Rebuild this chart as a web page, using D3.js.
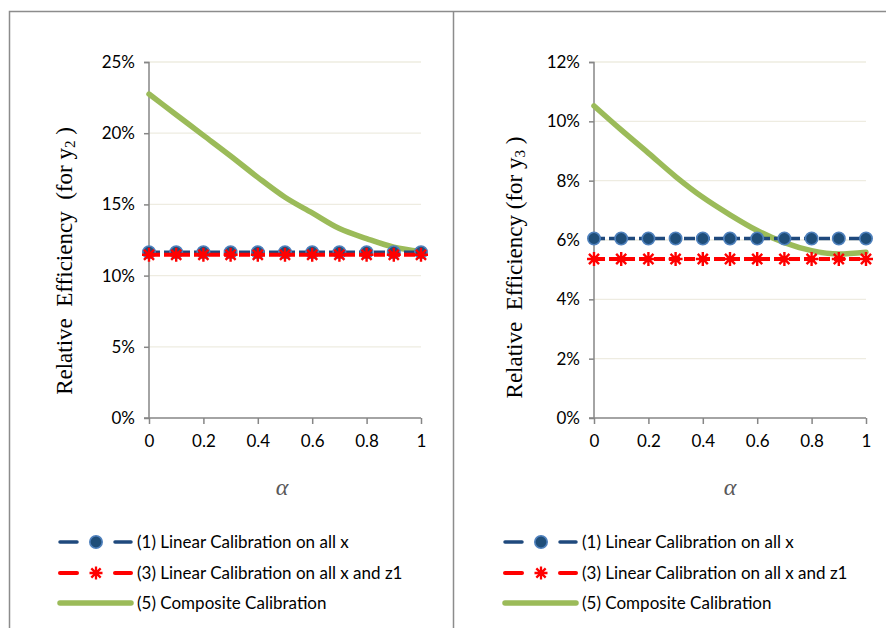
<!DOCTYPE html>
<html><head><meta charset="utf-8">
<script src="https://cdn.jsdelivr.net/npm/d3@7"></script>
<style>
body{margin:0;background:#fff;}
svg{display:block;}
</style></head>
<body>
<svg id="c" width="886" height="628"></svg>
<script>
const alpha = [0,0.1,0.2,0.3,0.4,0.5,0.6,0.7,0.8,0.9,1];
const xTicks = [0,0.2,0.4,0.6,0.8,1];

// Panel 1 (y2)
const y2Linear   = [11.64,11.64,11.64,11.64,11.64,11.64,11.64,11.64,11.64,11.64,11.64];
const y2LinearZ1 = [11.46,11.46,11.46,11.46,11.46,11.46,11.46,11.46,11.46,11.46,11.46];
const y2Composite= [22.75,21.3,19.85,18.4,16.9,15.5,14.4,13.3,12.6,12.0,11.7];
const y2Ticks = [0,5,10,15,20,25];

// Panel 2 (y3)
const y3Linear   = [6.05,6.05,6.05,6.05,6.05,6.05,6.05,6.05,6.05,6.05,6.05];
const y3LinearZ1 = [5.36,5.36,5.36,5.36,5.36,5.36,5.36,5.36,5.36,5.36,5.36];
const y3Composite= [10.52,9.71,8.93,8.14,7.44,6.85,6.32,5.91,5.64,5.53,5.59];
const y3Ticks = [0,2,4,6,8,10,12];

const seriesNames = ["(1) Linear Calibration on all x","(3) Linear Calibration on all x and z1","(5) Composite Calibration"];

const svg = d3.select("#c");
const C = {blue:"#1F497D", blueFill:"#1F4E79", blueStroke:"#4F81BD", red:"#FF0000", green:"#9BBB59", grid:"#EEECE1", axis:"#868686", frame:"#8C8C8C"};
const FONT = "Lato, 'Open Sans', sans-serif";
const FS = 17;

// frames
svg.append("path").attr("d","M9.5,628 V11.5 H886").attr("fill","none").attr("stroke",C.frame).attr("stroke-width",1.5);
svg.append("path").attr("d","M453.5,11.5 V628").attr("fill","none").attr("stroke",C.frame).attr("stroke-width",1.5);

const panels = [
  {x0:149, x1:421, yMax:25, ticks:y2Ticks, lin:y2Linear, linz:y2LinearZ1, comp:y2Composite, sub:"2", titleX:71.5, titleY:261, gap1:"  ", gap2:"  ", legX:60, alphaX:282},
  {x0:594, x1:866, yMax:12, ticks:y3Ticks, lin:y3Linear, linz:y3LinearZ1, comp:y3Composite, sub:"3", titleX:521.5, titleY:267.5, gap1:"  ", gap2:" ", legX:505, alphaX:730}
];

function star(g, cx, cy, r, w){
  const k = r*0.72;
  const d = `M${cx-r},${cy}H${cx+r}M${cx},${cy-r}V${cy+r}M${cx-k},${cy-k}L${cx+k},${cy+k}M${cx-k},${cy+k}L${cx+k},${cy-k}`;
  g.append("path").attr("d",d).attr("stroke",C.red).attr("stroke-width",w).attr("fill","none");
}

panels.forEach(p=>{
  const x = d3.scaleLinear().domain([0,1]).range([p.x0,p.x1]);
  const y = d3.scaleLinear().domain([0,p.yMax]).range([418,62]);
  const g = svg.append("g");

  // gridlines
  g.selectAll(".grid").data(p.ticks.filter(t=>t>0)).join("line")
    .attr("x1",p.x0).attr("x2",p.x1).attr("y1",d=>y(d)).attr("y2",d=>y(d))
    .attr("stroke",C.grid).attr("stroke-width",1.3);

  // y axis
  const ya = g.append("g").attr("transform",`translate(${p.x0},0)`)
    .call(d3.axisLeft(y).tickValues(p.ticks).tickFormat(d=>d+"%").tickSize(5).tickPadding(9));
  ya.select(".domain").attr("stroke",C.axis).attr("stroke-width",1.5).attr("d",`M-5,62.5H0V418H-5`);
  ya.selectAll(".tick line").attr("stroke",C.axis).attr("stroke-width",1.5);
  ya.selectAll("text").attr("font-family",FONT).attr("font-size",FS).attr("fill","#000");

  // x axis
  const xa = g.append("g").attr("transform",`translate(0,418)`)
    .call(d3.axisBottom(x).tickValues(xTicks).tickFormat(d=>d===0||d===1?d3.format("d")(d):d3.format(".1f")(d)).tickSize(6).tickPadding(11));
  xa.select(".domain").attr("stroke",C.axis).attr("stroke-width",1.5).attr("d",`M${p.x0},0H${p.x1}`);
  xa.selectAll(".tick line").attr("stroke",C.axis).attr("stroke-width",1.5);
  xa.selectAll("text").attr("font-family",FONT).attr("font-size",FS).attr("fill","#000");

  // alpha label
  g.append("text").attr("x",p.alphaX).attr("y",495).attr("text-anchor","middle")
    .attr("font-family","'Liberation Serif', serif").attr("font-style","italic").attr("font-size",24).attr("fill","#595959").text("α");

  // y title
  const t = g.append("text").attr("transform",`translate(${p.titleX},${p.titleY}) rotate(-90)`)
    .attr("text-anchor","middle").attr("font-family","'Liberation Serif', serif").attr("font-size",23).attr("fill","#000")
    .attr("xml:space","preserve").style("white-space","pre");
  t.append("tspan").text("Relative"+p.gap1+"Efficiency"+p.gap2+"(for y");
  t.append("tspan").attr("font-size",15).attr("dy",3).text(p.sub);
  t.append("tspan").attr("dy",-3).text(" )");

  // composite line
  const line = d3.line().x((d,i)=>x(alpha[i])).y(d=>y(d));
  g.append("path").datum(p.comp).attr("d",line.curve(d3.curveMonotoneX)).attr("fill","none")
    .attr("stroke",C.green).attr("stroke-width",5.5).attr("stroke-linecap","round");

  // linear (1)
  const lineS = d3.line().x((d,i)=>x(alpha[i])).y(d=>y(d));
  g.append("path").datum(p.lin).attr("d",lineS).attr("fill","none").attr("stroke",C.blue)
    .attr("stroke-width",3.5).attr("stroke-dasharray","11,4");
  g.selectAll(".circ").data(p.lin).join("circle").attr("cx",(d,i)=>x(alpha[i])).attr("cy",d=>y(d)).attr("r",6.2)
    .attr("fill",C.blueFill).attr("stroke",C.blueStroke).attr("stroke-width",1.6);

  // linear z1 (3)
  g.append("path").datum(p.linz).attr("d",lineS).attr("fill","none").attr("stroke",C.red)
    .attr("stroke-width",4).attr("stroke-dasharray","11,4");
  p.linz.forEach((d,i)=>star(g, x(alpha[i]), y(d), 7, 2.4));

  // legend
  const ly = [542,573,603];
  const lg = svg.append("g");
  lg.append("line").attr("x1",p.legX).attr("x2",p.legX+17).attr("y1",ly[0]).attr("y2",ly[0]).attr("stroke",C.blue).attr("stroke-width",3.5).attr("stroke-linecap","round");
  lg.append("line").attr("x1",p.legX+55).attr("x2",p.legX+71).attr("y1",ly[0]).attr("y2",ly[0]).attr("stroke",C.blue).attr("stroke-width",3.5).attr("stroke-linecap","round");
  lg.append("circle").attr("cx",p.legX+36).attr("cy",ly[0]).attr("r",6.2).attr("fill",C.blueFill).attr("stroke",C.blueStroke).attr("stroke-width",1.6);
  lg.append("line").attr("x1",p.legX).attr("x2",p.legX+17).attr("y1",ly[1]).attr("y2",ly[1]).attr("stroke",C.red).attr("stroke-width",4).attr("stroke-linecap","round");
  lg.append("line").attr("x1",p.legX+55).attr("x2",p.legX+71).attr("y1",ly[1]).attr("y2",ly[1]).attr("stroke",C.red).attr("stroke-width",4).attr("stroke-linecap","round");
  star(lg, p.legX+36, ly[1], 6.5, 2.3);
  lg.append("line").attr("x1",p.legX).attr("x2",p.legX+71).attr("y1",ly[2]).attr("y2",ly[2]).attr("stroke",C.green).attr("stroke-width",5.5).attr("stroke-linecap","round");
  lg.selectAll(".lt").data(seriesNames).join("text").attr("x",p.legX+77).attr("y",(d,i)=>ly[i]+6)
    .attr("font-family",FONT).attr("font-size",FS).attr("fill","#000").text(d=>d);
});
</script>
</body></html>
